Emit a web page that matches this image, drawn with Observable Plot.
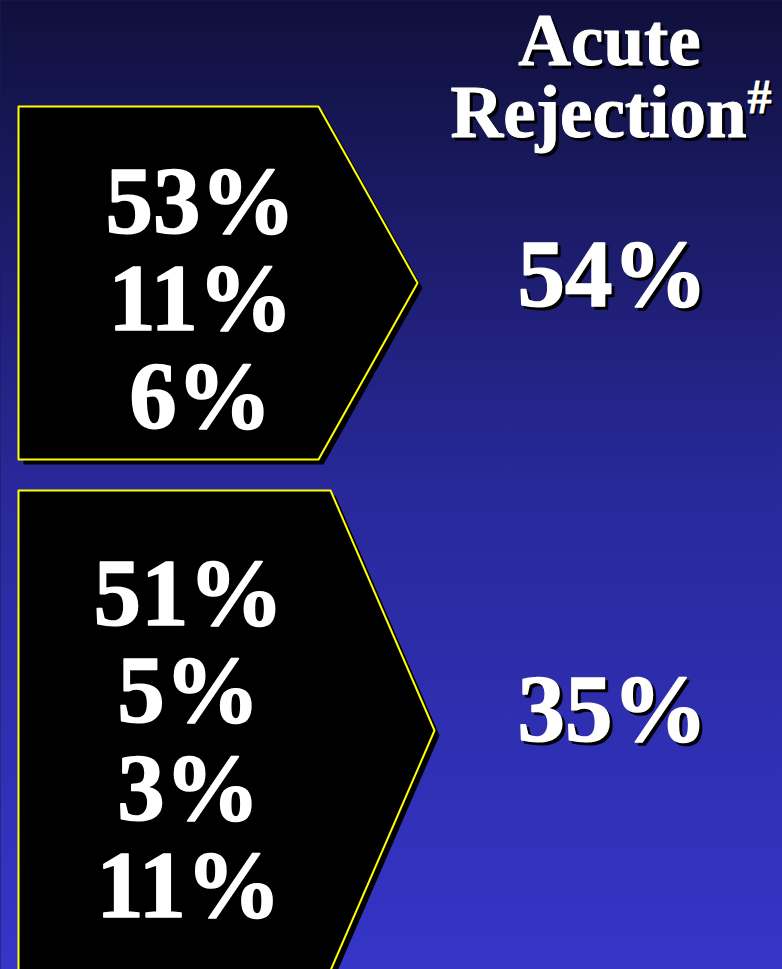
<!DOCTYPE html>
<html><head><meta charset="utf-8">
<script src="https://cdn.jsdelivr.net/npm/d3@7"></script>
<script src="https://cdn.jsdelivr.net/npm/@observablehq/plot@0.6"></script>
<style>html,body{margin:0;padding:0;background:#1a1a5a;overflow:hidden}svg{display:block}</style>
</head><body><div id="chart"></div>
<script>
// ---- data ----
const headerLines = ["Acute", "Rejection"];
const headerNote = "#";
const group1Values = ["53%", "11%", "6%"];
const group2Values = ["51%", "5%", "3%", "11%"];
const outcomeValues = ["54%", "35%"];

// ---- layout (pixel space of the 782x969 slide) ----
const W = 782, H = 969;
const boxes = [
  {id: 0, x0: 18, x1: 318, tip: 417, y0: 106, y1: 459, cx: 200, first: 232, values: group1Values},
  {id: 1, x0: 18, x1: 330, tip: 434, y0: 490, y1: 970, cx: 188, first: 624, values: group2Values}
];
const lineStep = 97.6;
const outcomeX = 612, outcomeY = [305, 740];

const poly = [];
for (const b of boxes) {
  const ym = (b.y0 + b.y1) / 2;
  [[b.x0, b.y0], [b.x1, b.y0], [b.tip, ym], [b.x1, b.y1], [b.x0, b.y1]]
    .forEach(([x, y]) => poly.push({id: b.id, x, y}));
}
const boxText = boxes.flatMap(b => b.values.map((v, i) => ({label: v, x: b.cx, y: b.first + i * lineStep})));
const outcomeText = outcomeValues.map((v, i) => ({label: v, x: outcomeX, y: outcomeY[i]}));
const headMid = [{label: headerLines[0], x: 609, y: 64}];
const headEnd = [{label: headerLines[1], x: 746, y: 136}];
const noteText = [{label: headerNote, x: 747, y: 112}];

const font = "'Liberation Serif', 'Times New Roman', serif";
const bgDefs = () => {
  const defs = d3.create("svg:defs");
  const g = defs.append("linearGradient").attr("id", "bg").attr("x1", 0).attr("y1", 0).attr("x2", 0).attr("y2", 1);
  g.append("stop").attr("offset", "0%").attr("stop-color", "#10103c");
  g.append("stop").attr("offset", "50%").attr("stop-color", "#28289a");
  g.append("stop").attr("offset", "100%").attr("stop-color", "#3535c8");
  return defs.node();
};

const textOpts = (extra) => Object.assign({
  x: "x", y: "y", text: "label", fontFamily: font, fontWeight: "bold",
  lineAnchor: "bottom"
}, extra);
const shadow = (col, sw) => ({fill: col, stroke: col, strokeWidth: sw});

const chart = Plot.plot({
  width: W, height: H,
  margin: 0,
  x: {domain: [0, W], range: [0, W], axis: null},
  y: {domain: [0, H], range: [0, H], axis: null},
  style: {background: "transparent"},
  marks: [
    bgDefs,
    Plot.frame({fill: "url(#bg)", stroke: null}),
    // box shadows
    Plot.line(poly, {x: "x", y: "y", z: "id", curve: "linear-closed", fill: "black", stroke: "none", dx: 5, dy: 5}),
    // boxes
    Plot.line(poly, {x: "x", y: "y", z: "id", curve: "linear-closed", fill: "black", stroke: "#ffff00", strokeWidth: 2}),
    Plot.text(boxText, textOpts({fontSize: 95, ...shadow("white", 1.5)})),
    // right column shadows
    Plot.text(outcomeText, textOpts({fontSize: 95, ...shadow("black", 1.5), dx: 3, dy: 3})),
    Plot.text(headMid, textOpts({fontSize: 73, ...shadow("black", 1), textAnchor: "middle", dx: 3, dy: 3})),
    Plot.text(headEnd, textOpts({fontSize: 73, ...shadow("black", 1), textAnchor: "end", dx: 3, dy: 3})),
    Plot.text(noteText, textOpts({fontSize: 48, ...shadow("black", 0.8), textAnchor: "start", dx: 2, dy: 2})),
    // right column texts
    Plot.text(outcomeText, textOpts({fontSize: 95, ...shadow("white", 1.5)})),
    Plot.text(headMid, textOpts({fontSize: 73, ...shadow("white", 1), textAnchor: "middle"})),
    Plot.text(headEnd, textOpts({fontSize: 73, ...shadow("white", 1), textAnchor: "end"})),
    Plot.text(noteText, textOpts({fontSize: 48, ...shadow("white", 0.8), textAnchor: "start"}))
  ]
});
document.getElementById("chart").appendChild(chart);
</script>
</body></html>
